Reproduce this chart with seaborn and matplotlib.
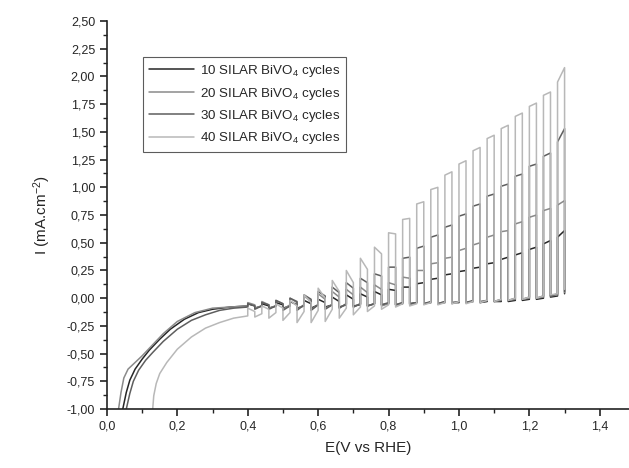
import numpy as np
import pandas as pd
import seaborn as sns
import matplotlib.pyplot as plt
from matplotlib.ticker import MultipleLocator, FuncFormatter

sns.set_style("ticks")
plt.rcParams['font.family'] = ['Liberation Sans', 'DejaVu Sans']
plt.rcParams['mathtext.default'] = 'regular'
plt.rcParams['axes.unicode_minus'] = False

labels = ["10 SILAR BiVO$_4$ cycles", "20 SILAR BiVO$_4$ cycles",
          "30 SILAR BiVO$_4$ cycles", "40 SILAR BiVO$_4$ cycles"]
colors = ["#262626", "#8a8a8a", "#5e5e5e", "#b8b8b8"]

# chopped illumination: light switched on at these potentials (on for 0.02 V, off for 0.02 V)
chop_on = [0.40, 0.44, 0.48, 0.52, 0.56, 0.60, 0.64, 0.68, 0.72, 0.76, 0.80, 0.84,
           0.88, 0.92, 0.96, 1.00, 1.04, 1.08, 1.12, 1.16, 1.20, 1.24, 1.28]
half = 0.02

# low potential part (before chopping) for each sample
low_e_10 = [0.045, 0.055, 0.065, 0.08, 0.10, 0.12, 0.15, 0.18, 0.22, 0.26, 0.30, 0.35, 0.40]
low_i_10 = [-1.0, -0.85, -0.74, -0.64, -0.55, -0.47, -0.37, -0.28, -0.19, -0.13, -0.10, -0.08, -0.07]
low_e_20 = [0.033, 0.040, 0.048, 0.06, 0.08, 0.10, 0.13, 0.16, 0.20, 0.25, 0.30, 0.35, 0.40]
low_i_20 = [-1.0, -0.85, -0.72, -0.64, -0.58, -0.52, -0.42, -0.32, -0.21, -0.13, -0.09, -0.08, -0.07]
low_e_30 = [0.055, 0.065, 0.075, 0.09, 0.11, 0.13, 0.16, 0.20, 0.24, 0.28, 0.32, 0.36, 0.40]
low_i_30 = [-1.0, -0.86, -0.75, -0.65, -0.56, -0.49, -0.39, -0.28, -0.20, -0.15, -0.11, -0.09, -0.08]
low_e_40 = [0.13, 0.133, 0.14, 0.15, 0.17, 0.20, 0.24, 0.28, 0.32, 0.36, 0.40]
low_i_40 = [-1.0, -0.88, -0.77, -0.68, -0.58, -0.46, -0.35, -0.27, -0.22, -0.18, -0.16]

# light on: current at switch-on (spike) and at switch-off
on_start_10 = [-0.05, -0.05, -0.04, -0.03, -0.02, -0.01, 0.01, 0.03, 0.04, 0.06, 0.08, 0.10,
               0.13, 0.17, 0.21, 0.24, 0.27, 0.31, 0.35, 0.39, 0.44, 0.49, 0.55]
on_end_10 = [-0.07, -0.07, -0.06, -0.06, -0.05, -0.04, -0.03, -0.01, 0.01, 0.03, 0.07, 0.10,
             0.14, 0.18, 0.22, 0.25, 0.28, 0.32, 0.37, 0.41, 0.46, 0.52, 0.61]
on_start_20 = [-0.04, -0.03, -0.02, 0.0, 0.02, 0.04, 0.06, 0.08, 0.10, 0.12, 0.14, 0.19,
               0.25, 0.31, 0.36, 0.43, 0.48, 0.55, 0.60, 0.67, 0.73, 0.79, 0.84]
on_end_20 = [-0.06, -0.06, -0.05, -0.04, -0.03, -0.01, 0.01, 0.03, 0.05, 0.08, 0.12, 0.18,
             0.25, 0.32, 0.37, 0.45, 0.50, 0.57, 0.61, 0.69, 0.75, 0.81, 0.88]
on_start_30 = [-0.05, -0.04, -0.02, 0.0, 0.03, 0.06, 0.10, 0.14, 0.18, 0.22, 0.28, 0.36,
               0.45, 0.55, 0.64, 0.74, 0.83, 0.92, 1.01, 1.10, 1.19, 1.28, 1.41]
on_end_30 = [-0.07, -0.06, -0.05, -0.03, -0.01, 0.02, 0.05, 0.09, 0.14, 0.20, 0.28, 0.37,
             0.47, 0.57, 0.66, 0.76, 0.85, 0.94, 1.03, 1.12, 1.21, 1.31, 1.53]
on_start_40 = [-0.09, -0.07, -0.05, -0.02, 0.03, 0.09, 0.16, 0.25, 0.36, 0.46, 0.59, 0.71,
               0.85, 0.98, 1.11, 1.21, 1.33, 1.44, 1.53, 1.64, 1.73, 1.83, 1.95]
on_end_40 = [-0.12, -0.10, -0.09, -0.07, -0.04, 0.0, 0.06, 0.14, 0.26, 0.40, 0.58, 0.72,
             0.87, 1.00, 1.14, 1.24, 1.36, 1.47, 1.56, 1.67, 1.76, 1.86, 2.08]

# light off: current right after switch-off and at the end of the dark period
dip_10 = [-0.09, -0.09, -0.09, -0.09, -0.09, -0.08, -0.08, -0.07, -0.07, -0.06, -0.06, -0.05,
          -0.05, -0.05, -0.04, -0.04, -0.04, -0.03, -0.03, -0.02, -0.01, 0.01, 0.04]
dark_10 = [-0.07, -0.07, -0.07, -0.07, -0.06, -0.06, -0.06, -0.06, -0.05, -0.05, -0.05, -0.04,
           -0.04, -0.04, -0.04, -0.03, -0.03, -0.03, -0.02, -0.01, 0.0, 0.02, 0.05]
dip_20 = [-0.09, -0.09, -0.10, -0.10, -0.10, -0.09, -0.09, -0.08, -0.07, -0.07, -0.06, -0.06,
          -0.05, -0.05, -0.05, -0.04, -0.04, -0.03, -0.02, -0.01, 0.0, 0.02, 0.05]
dark_20 = [-0.07, -0.07, -0.06, -0.06, -0.06, -0.06, -0.05, -0.05, -0.05, -0.05, -0.04, -0.04,
           -0.04, -0.03, -0.03, -0.03, -0.02, -0.02, -0.01, 0.0, 0.01, 0.03, 0.06]
dip_30 = [-0.10, -0.10, -0.11, -0.11, -0.11, -0.10, -0.09, -0.08, -0.07, -0.06, -0.06, -0.05,
          -0.05, -0.05, -0.04, -0.04, -0.03, -0.03, -0.02, -0.01, 0.0, 0.02, 0.06]
dark_30 = [-0.07, -0.07, -0.07, -0.06, -0.06, -0.06, -0.05, -0.05, -0.05, -0.04, -0.04, -0.04,
           -0.03, -0.03, -0.03, -0.02, -0.02, -0.01, 0.0, 0.01, 0.02, 0.04, 0.07]
dip_40 = [-0.17, -0.18, -0.20, -0.22, -0.22, -0.21, -0.18, -0.15, -0.12, -0.10, -0.08, -0.07,
          -0.06, -0.06, -0.05, -0.05, -0.04, -0.03, -0.02, -0.01, 0.0, 0.03, 0.08]
dark_40 = [-0.14, -0.13, -0.13, -0.12, -0.11, -0.10, -0.09, -0.08, -0.07, -0.06, -0.05, -0.05,
           -0.04, -0.04, -0.03, -0.03, -0.02, -0.01, 0.0, 0.01, 0.02, 0.04, 0.08]

samples = [
    (low_e_10, low_i_10, on_start_10, on_end_10, dip_10, dark_10),
    (low_e_20, low_i_20, on_start_20, on_end_20, dip_20, dark_20),
    (low_e_30, low_i_30, on_start_30, on_end_30, dip_30, dark_30),
    (low_e_40, low_i_40, on_start_40, on_end_40, dip_40, dark_40),
]

rows = []
for lab, (le, li, ons, one, dip, dark) in zip(labels, samples):
    ee = list(le)
    ii = list(li)
    for k, e in enumerate(chop_on):
        ee += [e, e + half, e + half]
        ii += [ons[k], one[k], dip[k]]
        if k < len(chop_on) - 1:
            ee.append(e + 2 * half)
            ii.append(dark[k])
    for n, (x, y) in enumerate(zip(ee, ii)):
        rows.append({"E": x, "I": y, "sample": lab, "n": n})
df = pd.DataFrame(rows)

fig = plt.figure(figsize=(6.29, 4.68), dpi=100)
ax = fig.add_axes([0.170, 0.126, 0.830, 0.829])
sns.lineplot(data=df, x="E", y="I", hue="sample", hue_order=labels,
             palette=colors, sort=False, estimator=None, units=None,
             linewidth=1.1, legend=False, ax=ax)

ax.set_xlim(0, 1.483)
ax.set_ylim(-1.0, 2.5)
ax.xaxis.set_major_locator(MultipleLocator(0.2))
ax.xaxis.set_minor_locator(MultipleLocator(0.1))
ax.yaxis.set_major_locator(MultipleLocator(0.25))
ax.yaxis.set_minor_locator(MultipleLocator(0.125))
ax.xaxis.set_major_formatter(FuncFormatter(lambda v, p: f"{v:.1f}".replace(".", ",")))
ax.yaxis.set_major_formatter(FuncFormatter(lambda v, p: f"{v:.2f}".replace(".", ",")))
ax.tick_params(which="major", direction="out", length=5, width=1.2, labelsize=9, color="#222222")
ax.tick_params(which="minor", direction="out", length=3, width=1.0, color="#222222")
sns.despine(ax=ax)
for s in ["left", "bottom"]:
    ax.spines[s].set_linewidth(1.2)
    ax.spines[s].set_color("#222222")

ax.set_xlabel("E(V vs RHE)", fontsize=11, labelpad=6)
ax.set_ylabel("I (mA.cm$^{-2}$)", fontsize=11, labelpad=10)

leg = ax.legend(ax.lines[:4], labels, loc="upper left", bbox_to_anchor=(0.069, 0.907),
                fontsize=9.6, handlelength=3.35, handletextpad=0.5, borderaxespad=0,
                labelspacing=0.48, frameon=True, fancybox=False, borderpad=0.45)
leg.get_frame().set_edgecolor("#333333")
leg.get_frame().set_linewidth(0.8)

fig.savefig("out.png", dpi=100)
